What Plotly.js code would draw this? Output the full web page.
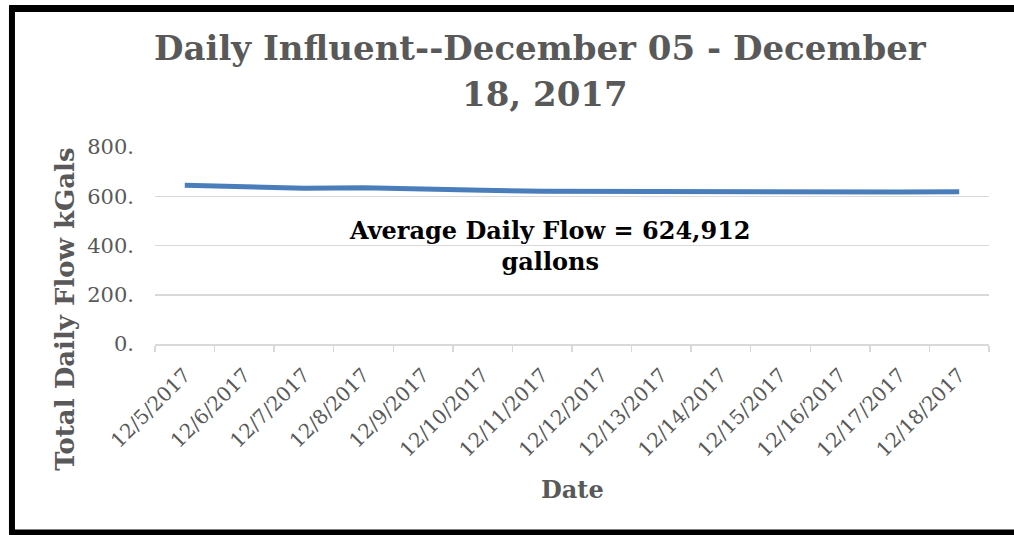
<!DOCTYPE html>
<html>
<head>
<meta charset="utf-8">
<script src="https://cdn.plot.ly/plotly-3.0.1.min.js"></script>
<style>html,body{margin:0;padding:0;background:#fff;}#chart{width:1014px;height:535px;}</style>
</head>
<body>
<div id="chart"></div>
<script>
const dates = ["12/5/2017","12/6/2017","12/7/2017","12/8/2017","12/9/2017","12/10/2017","12/11/2017","12/12/2017","12/13/2017","12/14/2017","12/15/2017","12/16/2017","12/17/2017","12/18/2017"];
const flowKGals = [645, 640, 632, 635, 627, 624, 620, 619, 617, 617, 617, 613, 617, 618];
const yTickVals = [0, 200, 400, 600, 800];
const yTickText = ["0.", "200.", "400.", "600.", "800."];
const titleLine1 = "Daily Influent--December 05 - December";
const titleLine2 = "18, 2017";
const noteText = "Average Daily Flow = 624,912<br>gallons";
const yTitle = "Total Daily Flow kGals";
const xTitle = "Date";

const serif = "DejaVu Serif, Liberation Serif, serif";
const gray = "#595959";

const trace = {
  x: dates, y: flowKGals, type: "scatter", mode: "lines",
  line: {color: "#4a7ebb", width: 5},
  hoverinfo: "skip"
};

const titleFont = {family: serif, size: 34, color: gray, weight: "bold"};

const layout = {
  width: 1014, height: 535,
  margin: {l: 155, r: 25, t: 147, b: 191},
  paper_bgcolor: "#fff", plot_bgcolor: "#fff",
  showlegend: false,
  font: {family: serif, color: gray},
  xaxis: {
    type: "category",
    range: [-0.5, 13.5],
    tickson: "boundaries",
    ticks: "outside", ticklen: 6, tickcolor: "#d9d9d9", tickwidth: 1.5,
    tickangle: -45,
    ticklabelstandoff: 10,
    tickfont: {family: serif, size: 20, color: gray},
    showgrid: false,
    showline: true, linecolor: "#d9d9d9", linewidth: 1.5,
    zeroline: false, fixedrange: true
  },
  yaxis: {
    range: [0, 800],
    tickvals: yTickVals, ticktext: yTickText,
    tickfont: {family: serif, size: 21, color: gray},
    showgrid: true, gridcolor: "#d9d9d9", gridwidth: 1.5,
    zeroline: false, showline: false, ticks: "",
    ticklabelstandoff: 20,
    fixedrange: true
  },
  annotations: [
    {text: titleLine1, xref: "paper", yref: "paper", x: 0.462, y: 1.505,
     xanchor: "center", yanchor: "middle", showarrow: false, font: titleFont},
    {text: titleLine2, xref: "paper", yref: "paper", x: 0.468, y: 1.27,
     xanchor: "center", yanchor: "middle", showarrow: false, font: titleFont},
    {text: noteText, xref: "paper", yref: "paper", x: 0.474, y: 0.5,
     xanchor: "center", yanchor: "middle", showarrow: false,
     font: {family: serif, size: 24, color: "#000", weight: "bold"}},
    {text: yTitle, xref: "paper", yref: "paper", x: -0.108, y: 0.178,
     xanchor: "center", yanchor: "middle", textangle: -90, showarrow: false,
     font: {family: serif, size: 26, color: gray, weight: "bold"}},
    {text: xTitle, xref: "paper", yref: "paper", x: 0.5, y: -0.74,
     xanchor: "center", yanchor: "middle", showarrow: false,
     font: {family: serif, size: 24, color: gray, weight: "bold"}}
  ],
  shapes: [
    {type: "line", xref: "paper", yref: "paper", x0: -0.1715, x1: -0.1715, y0: 1.706, y1: -0.96,
     line: {color: "#000", width: 6}},
    {type: "line", xref: "paper", yref: "paper", x0: -0.175, x1: 1.05, y0: 1.703, y1: 1.703,
     line: {color: "#000", width: 7}},
    {type: "line", xref: "paper", yref: "paper", x0: -0.175, x1: 1.05, y0: -0.957, y1: -0.957,
     line: {color: "#000", width: 6}}
  ]
};

Plotly.newPlot("chart", [trace], layout, {displayModeBar: false, staticPlot: true});
</script>
</body>
</html>
